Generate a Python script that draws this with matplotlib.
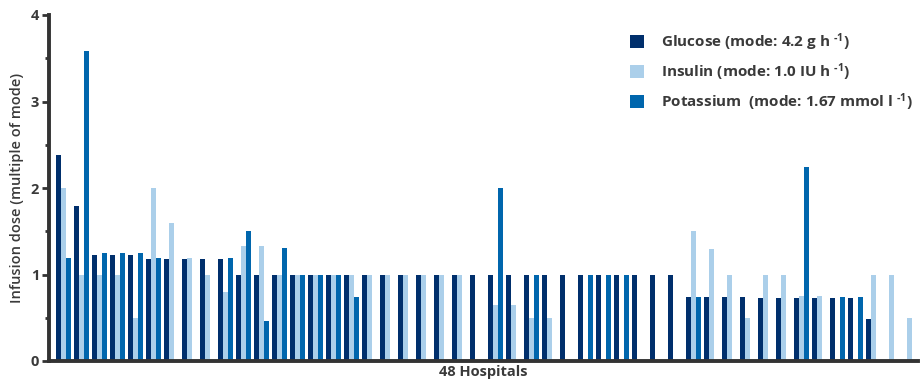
import matplotlib
matplotlib.use("Agg")
from matplotlib import pyplot as plt
from matplotlib.ticker import MultipleLocator
import numpy as np

# ---- Data (multiple of mode), 48 hospitals ----

glucose = [2.38, 1.79, 1.23, 1.23, 1.23, 1.18, 1.18, 1.18, 1.18, 1.18,
           1.0, 1.0, 1.0, 1.0, 1.0, 1.0, 1.0, 1.0, 1.0, 1.0,
           1.0, 1.0, 1.0, 1.0, 1.0, 1.0, 1.0, 1.0, 1.0, 1.0,
           1.0, 1.0, 1.0, 1.0, 1.0, 0.74, 0.74, 0.74, 0.74, 0.73,
           0.73, 0.73, 0.73, 0.73, 0.73, 0.49, 0.0, 0.0]

insulin = [2.0, 1.0, 1.0, 1.0, 0.5, 2.0, 1.59, 1.19, 1.0, 0.8,
           1.33, 1.33, 1.0, 1.0, 1.0, 1.0, 1.0, 1.0, 1.0, 1.0,
           1.0, 1.0, 1.0, 0.0, 0.65, 0.65, 0.5, 0.5, 0.0, 0.0,
           0.0, 0.0, 0.0, 0.0, 0.0, 1.5, 1.29, 1.0, 0.5, 1.0,
           1.0, 0.75, 0.75, 0.0, 0.0, 1.0, 1.0, 0.5]

potassium = [1.19, 3.58, 1.25, 1.25, 1.25, 1.19, 0.0, 0.0, 0.0, 1.19,
             1.5, 0.46, 1.31, 1.0, 1.0, 1.0, 0.74, 0.0, 0.0, 0.0,
             0.0, 0.0, 0.0, 0.0, 2.0, 0.0, 1.0, 0.0, 0.0, 1.0,
             1.0, 1.0, 0.0, 0.0, 0.0, 0.74, 0.0, 0.0, 0.0, 0.0,
             0.0, 2.24, 0.0, 0.74, 0.74, 0.0, 0.0, 0.0]

labels = ["Glucose (mode: 4.2 g h $^{\\text{-1}}$)",
          "Insulin (mode: 1.0 IU h $^{\\text{-1}}$)",
          "Potassium  (mode: 1.67 mmol l $^{\\text{-1}}$)"]


# ---- Style ----

font = "Open Sans"
plt.rcParams["font.family"] = [font, "DejaVu Sans"]
plt.rcParams["font.weight"] = "bold"
plt.rcParams["mathtext.fontset"] = "custom"
plt.rcParams["mathtext.rm"] = font + ":bold"
plt.rcParams["mathtext.sf"] = font + ":bold"
plt.rcParams["mathtext.default"] = "rm"

text_color = "#3a3a3a"
spine_color = "#333333"
colors = ["#002f6c", "#abcfea", "#0066ad"]

fig = plt.figure(figsize=(9.23, 3.86), dpi=100)
ax = fig.add_axes([49 / 923, 25 / 386, 869 / 923, 346 / 386])

x = np.arange(len(glucose))
w = 0.2778

ax.bar(x - w, glucose, width=w, color=colors[0], label=labels[0])
ax.bar(x, insulin, width=w, color=colors[1], label=labels[1])
ax.bar(x + w, potassium, width=w, color=colors[2], label=labels[2])

ax.set_xlim(-0.806, 47.45)
ax.set_ylim(0, 4)

ax.yaxis.set_major_locator(MultipleLocator(1))
ax.yaxis.set_minor_locator(MultipleLocator(0.5))
ax.tick_params(axis="y", which="major", length=5, width=2, color=spine_color,
               labelsize=10.5, labelcolor=text_color, pad=2)
ax.tick_params(axis="y", which="minor", length=3, width=2, color=spine_color)
ax.set_xticks([])
for t in ax.get_yticklabels():
  t.set_fontweight("bold")

for s in ["top", "right"]:
  ax.spines[s].set_visible(False)
for s in ["left", "bottom"]:
  ax.spines[s].set_linewidth(2.8)
  ax.spines[s].set_color(spine_color)

ax.set_ylabel("Infusion dose (multiple of mode)", fontsize=10.5, color=text_color,
              labelpad=5, fontweight="semibold")
ax.set_xlabel("48 Hospitals", fontsize=10.5, color=text_color, labelpad=3, fontweight="bold")

leg = ax.legend(loc="upper left", bbox_to_anchor=(0.662, 0.971), frameon=False,
                prop={"size": 11, "weight": "bold"},
                handlelength=0.9, handleheight=0.9,
                handletextpad=1.1, labelspacing=0.55, borderaxespad=0.0)
for t in leg.get_texts():
  t.set_color(text_color)

fig.savefig("out.png", dpi=100)
